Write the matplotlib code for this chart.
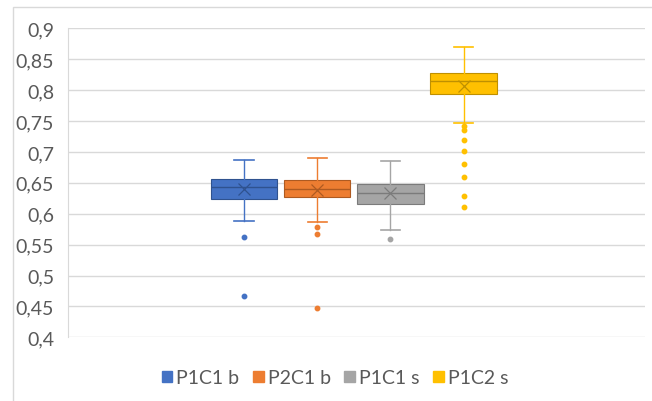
import matplotlib
matplotlib.use('Agg')
import matplotlib.pyplot as plt
from matplotlib.patches import Patch, Rectangle

plt.rcParams['font.family'] = ['Lato', 'DejaVu Sans']

series = ['P1C1 b', 'P2C1 b', 'P1C1 s', 'P1C2 s']
colors = ['#4472C4', '#ED7D31', '#A5A5A5', '#FFC000']
dark = ['#2F528F', '#AE5A21', '#7B7B7B', '#BF9000']

# box stats
whis_hi = [0.687, 0.690, 0.686, 0.869]
q3 = [0.656, 0.655, 0.648, 0.828]
medians = [0.643, 0.640, 0.634, 0.815]
means = [0.640, 0.639, 0.633, 0.806]
q1 = [0.623, 0.627, 0.616, 0.794]
whis_lo = [0.588, 0.587, 0.573, 0.747]
outliers = [
    [0.563, 0.467],
    [0.579, 0.567, 0.447],
    [0.559],
    [0.742, 0.735, 0.720, 0.701, 0.681, 0.659, 0.629, 0.611],
]

yticks = [0.4, 0.45, 0.5, 0.55, 0.6, 0.65, 0.7, 0.75, 0.8, 0.85, 0.9]
ytick_labels = ['0,4', '0,45', '0,5', '0,55', '0,6', '0,65', '0,7', '0,75', '0,8', '0,85', '0,9']

fig = plt.figure(figsize=(6.52, 4.02), dpi=100)
ax = fig.add_axes([68/652, 1-338.3/402, 577/652, 309/402])

# chart-area border
fig.patches.append(Rectangle((13/652, -0.1), 1.0, 1-8/402+0.1, transform=fig.transFigure,
                             fill=False, edgecolor='#D9D9D9', linewidth=1))

text_col = '#595959'
for i in range(4):
    st = [{'med': medians[i], 'q1': q1[i], 'q3': q3[i], 'whislo': whis_lo[i],
           'whishi': whis_hi[i], 'mean': means[i], 'fliers': outliers[i]}]
    ax.bxp(st, positions=[i+1], widths=0.91, capwidths=0.26, showmeans=True,
           patch_artist=True,
           boxprops=dict(facecolor=colors[i], edgecolor=dark[i], linewidth=0.8),
           medianprops=dict(color=dark[i], linewidth=1),
           whiskerprops=dict(color=colors[i], linewidth=1),
           capprops=dict(color=colors[i], linewidth=1.2),
           meanprops=dict(marker='x', markeredgecolor=dark[i], markersize=8, markeredgewidth=0.9),
           flierprops=dict(marker='o', markerfacecolor=colors[i], markeredgecolor=colors[i],
                           markersize=3.2))

ax.set_xlim(-1.405, 6.479)
ax.set_ylim(0.4, 0.9)
ax.set_yticks(yticks)
ax.set_yticklabels(ytick_labels, fontsize=14, color=text_col)
ax.set_xticks([])
ax.tick_params(axis='y', length=0, pad=10)
ax.yaxis.grid(True, color='#D9D9D9', linewidth=1)
ax.set_axisbelow(True)
for s in ['top', 'right', 'bottom']:
    ax.spines[s].set_visible(False)
ax.spines['left'].set_color('#D9D9D9')

handles = [Patch(facecolor=c, edgecolor=c) for c in colors]
fig.legend(handles, series, loc='center', bbox_to_anchor=(335/652, 1-379/402), ncol=4,
           frameon=False, fontsize=14, labelcolor=text_col, handlelength=0.55,
           handleheight=0.55, handletextpad=0.2, columnspacing=0.7)

fig.savefig('out.png', dpi=100)
